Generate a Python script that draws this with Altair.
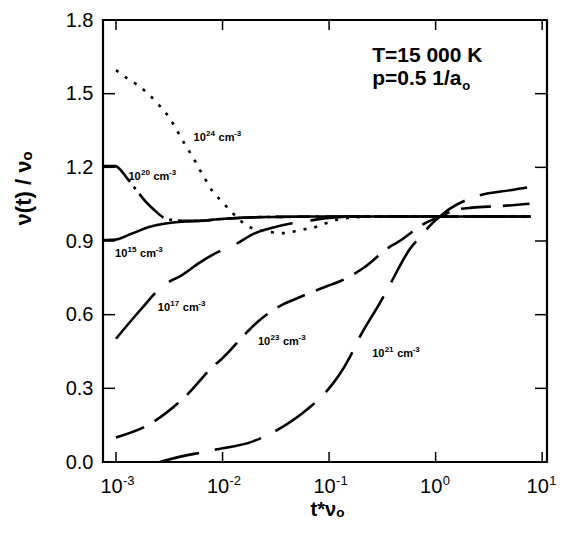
import altair as alt
import pandas as pd

# ---- data ----
names = ["1e15", "1e17", "1e20", "1e21", "1e23", "1e24"]

t_15 = [0.00076, 0.00095, 0.00144, 0.00208, 0.003, 0.004, 0.006, 0.01, 0.018, 0.05, 0.1, 1.0, 7.8]
v_15 = [0.904, 0.905, 0.932, 0.958, 0.972, 0.978, 0.982, 0.99, 0.996, 0.999, 1.0, 1.0, 1.0]

t_20 = [0.00076, 0.00098, 0.0013, 0.0016, 0.0019, 0.0023, 0.0028, 0.0035, 0.0045, 0.006, 0.01, 0.018, 0.05, 0.1, 1.0, 7.8]
v_20 = [1.205, 1.205, 1.15, 1.10, 1.06, 1.025, 0.995, 0.985, 0.982, 0.982, 0.99, 0.996, 0.999, 1.0, 1.0, 1.0]

t_24 = [0.001, 0.00122, 0.00158, 0.002, 0.0025, 0.003, 0.0035, 0.004, 0.0045, 0.0053, 0.006, 0.0068,
        0.0079, 0.0095, 0.0118, 0.0145, 0.0181, 0.029, 0.037, 0.048, 0.059, 0.073, 0.093, 0.13, 0.2, 0.4, 7.8]
v_24 = [1.596, 1.568, 1.536, 1.50, 1.456, 1.416, 1.372, 1.328, 1.288, 1.24, 1.196, 1.156,
        1.108, 1.068, 1.024, 0.985, 0.956, 0.936, 0.932, 0.94, 0.948, 0.956, 0.972, 0.99, 0.998, 1.0, 1.0]

t_17 = [0.001, 0.0017, 0.00276, 0.0042, 0.006, 0.009, 0.0137, 0.0193, 0.03, 0.045, 0.063, 0.1, 0.2, 1.0, 7.8]
v_17 = [0.502, 0.62, 0.718, 0.762, 0.81, 0.855, 0.89, 0.928, 0.955, 0.972, 0.982, 0.994, 1.0, 1.0, 1.0]

t_23 = [0.001, 0.00218, 0.00383, 0.0047, 0.0081, 0.00985, 0.0169, 0.021, 0.0362, 0.046, 0.0952, 0.127,
        0.21, 0.37, 0.445, 0.79, 1.1, 1.5, 2.2, 4.0, 7.6]
v_23 = [0.10, 0.16, 0.24, 0.276, 0.388, 0.42, 0.528, 0.568, 0.64, 0.66, 0.716, 0.736,
        0.79, 0.876, 0.896, 0.972, 1.0, 1.025, 1.036, 1.042, 1.052]

t_21 = [0.0022, 0.003, 0.0081, 0.0193, 0.026, 0.063, 0.086, 0.157, 0.187, 0.30, 0.35, 0.575, 0.71,
        0.95, 1.1, 1.4, 2.2, 5.2, 7.7]
v_21 = [-0.01, 0.008, 0.048, 0.084, 0.108, 0.216, 0.268, 0.428, 0.496, 0.648, 0.70, 0.868, 0.916,
        0.976, 1.0, 1.035, 1.076, 1.108, 1.12]

# curve labels: "10^exp cm^-3", left edge / baseline positions in data units
label_exp = ["24", "20", "15", "17", "23", "21"]
label_t = [0.00535, 0.00131, 0.00098, 0.00247, 0.0215, 0.2535]
label_v = [1.308, 1.148, 0.836, 0.616, 0.476, 0.428]

note_text = ["T=15 000 K", "p=0.5 1/a"]
note_t = [0.2535, 0.2535]
note_v = [1.63, 1.535]

x_ticks = [0.001, 0.01, 0.1, 1.0, 10.0]
x_tick_exp = ["-3", "-2", "-1", "0", "1"]
y_ticks = [0.0, 0.3, 0.6, 0.9, 1.2, 1.5, 1.8]

# ---- build tables ----
series = {
    "1e15": (t_15, v_15), "1e17": (t_17, v_17), "1e20": (t_20, v_20),
    "1e21": (t_21, v_21), "1e23": (t_23, v_23), "1e24": (t_24, v_24),
}
rows = []
for s, (ts, vs) in series.items():
    for i, (t, v) in enumerate(zip(ts, vs)):
        rows.append({"s": s, "t": t, "v": v, "i": i})
df = pd.DataFrame(rows)

dashes = [[1, 0], [60, 18], [34, 6, 3, 6], [48, 16], [30, 12], [3, 8]]

W, H = 444, 442
FONT = "Liberation Sans"
xs = alt.Scale(type="log", domain=[0.000755, 11.1], nice=False)
ys = alt.Scale(domain=[0, 1.8], nice=False)

x_axis = alt.Axis(values=x_ticks, labels=False, ticks=False, domain=False, grid=False,
                  titleFont=FONT, titleFontSize=20, titleFontWeight="bold", titleColor="black",
                  titleX=W / 2 + 2, titleY=53, titleBaseline="alphabetic", titleAlign="center")
y_axis = alt.Axis(values=y_ticks, format=".1f", ticks=False, domain=False, grid=False,
                  labelFont=FONT, labelFontSize=20, labelColor="black", labelPadding=10,
                  labelFlush=False,
                  titleFont=FONT, titleFontSize=22, titleFontWeight="bold", titleColor="black",
                  titleAngle=270, titleX=-80, titleY=168, titleAlign="center",
                  titleBaseline="middle")
X_TITLE = "t*νₒ"
Y_TITLE = "ν(t) / νₒ"


def X(field):
    return alt.X(field, scale=xs, axis=x_axis, title=X_TITLE)


def Y(field):
    return alt.Y(field, scale=ys, axis=y_axis, title=Y_TITLE)


lines = alt.Chart(df).mark_line(color="black", strokeWidth=2.6, clip=True, interpolate="monotone").encode(
    x=X("t:Q"), y=Y("v:Q"),
    strokeDash=alt.StrokeDash("s:N", scale=alt.Scale(domain=names, range=dashes), legend=None),
    order="i:Q",
)

lab_df = pd.DataFrame({"e": label_exp, "t": label_t, "v": label_v, "ten": "10", "cm": "cm", "m3": "-3"})
txt = dict(fontWeight="bold", font=FONT, color="black", align="left", baseline="alphabetic")
lab_ten = alt.Chart(lab_df).mark_text(fontSize=11, **txt).encode(x=X("t:Q"), y=Y("v:Q"), text="ten:N")
lab_exp = alt.Chart(lab_df).mark_text(fontSize=8, dx=12.5, dy=-5, **txt).encode(x=X("t:Q"), y=Y("v:Q"), text="e:N")
lab_cm = alt.Chart(lab_df).mark_text(fontSize=11, dx=25, **txt).encode(x=X("t:Q"), y=Y("v:Q"), text="cm:N")
lab_m3 = alt.Chart(lab_df).mark_text(fontSize=8, dx=40.5, dy=-5, **txt).encode(x=X("t:Q"), y=Y("v:Q"), text="m3:N")

note_df = pd.DataFrame({"txt": note_text, "t": note_t, "v": note_v})
notes = alt.Chart(note_df).mark_text(fontSize=21, **txt).encode(x=X("t:Q"), y=Y("v:Q"), text="txt:N")
sub_df = pd.DataFrame({"txt": ["o"], "t": [note_t[1]], "v": [note_v[1]]})
note_sub = alt.Chart(sub_df).mark_text(fontSize=13, dx=90, dy=5, **txt).encode(
    x=X("t:Q"), y=Y("v:Q"), text="txt:N")

ydf = pd.DataFrame({"v": y_ticks})
xdf = pd.DataFrame({"t": x_ticks, "ten": "10", "e": x_tick_exp})
rule = dict(color="black", strokeWidth=1.5)
left_ticks = alt.Chart(ydf).mark_rule(**rule).encode(y=Y("v:Q"), x=alt.value(0), x2=alt.value(12))
right_ticks = alt.Chart(ydf).mark_rule(**rule).encode(y=Y("v:Q"), x=alt.value(W - 12), x2=alt.value(W))
bottom_ticks = alt.Chart(xdf).mark_rule(**rule).encode(x=X("t:Q"), y=alt.value(H), y2=alt.value(H - 10))
top_ticks = alt.Chart(xdf).mark_rule(**rule).encode(x=X("t:Q"), y=alt.value(0), y2=alt.value(10))

xlab_ten = alt.Chart(xdf).mark_text(fontSize=20, font=FONT, color="black", align="center",
                                    baseline="alphabetic", dx=-4.5).encode(
    x=X("t:Q"), y=alt.value(H + 31), text="ten:N")
xlab_exp = alt.Chart(xdf).mark_text(fontSize=13, font=FONT, color="black", align="left",
                                    baseline="alphabetic", dx=7).encode(
    x=X("t:Q"), y=alt.value(H + 23), text="e:N")

chart = alt.layer(
    lines, lab_ten, lab_exp, lab_cm, lab_m3, notes, note_sub,
    left_ticks, right_ticks, bottom_ticks, top_ticks, xlab_ten, xlab_exp,
).properties(
    width=W, height=H,
    autosize=alt.AutoSizeParams(type="none"),
    padding={"left": 95, "top": 12, "right": 14, "bottom": 63},
).configure_view(stroke="black", strokeWidth=2.2)

chart.save("out.html", embed_options={"renderer": "svg", "actions": False})
